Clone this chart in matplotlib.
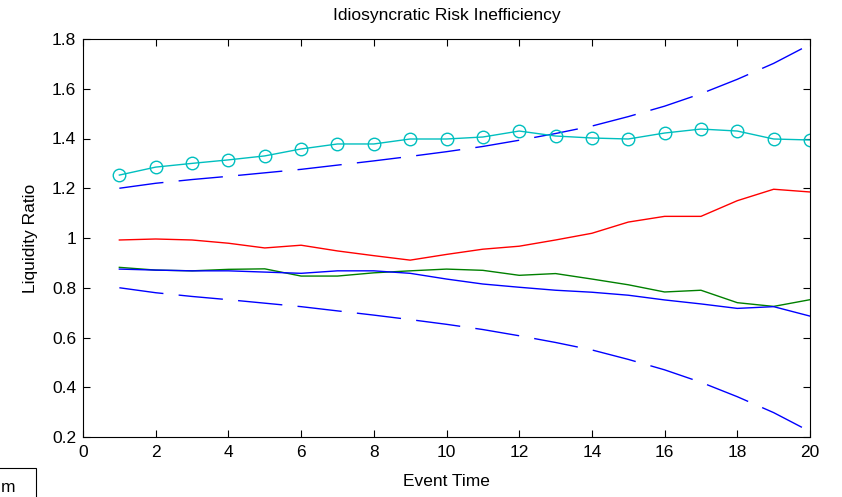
import numpy as np
import matplotlib
matplotlib.use("Agg")
import matplotlib.pyplot as plt
from matplotlib.patches import Rectangle

plt.rcParams['font.family'] = ['Liberation Sans', 'DejaVu Sans']

# event time axis
event_time = np.arange(1, 21)

# liquidity ratio series
upper_band = [1.200, 1.220, 1.235, 1.248, 1.262, 1.276, 1.293, 1.310, 1.328, 1.347,
              1.368, 1.393, 1.420, 1.450, 1.488, 1.530, 1.580, 1.638, 1.702, 1.778]
lower_band = [0.800, 0.780, 0.765, 0.752, 0.738, 0.724, 0.707, 0.690, 0.672, 0.653,
              0.632, 0.607, 0.580, 0.550, 0.512, 0.470, 0.420, 0.362, 0.298, 0.222]
cyan_series = [1.253, 1.285, 1.300, 1.314, 1.330, 1.358, 1.378, 1.378, 1.398, 1.398,
               1.406, 1.430, 1.410, 1.402, 1.398, 1.422, 1.438, 1.430, 1.398, 1.394]
red_series = [0.992, 0.996, 0.992, 0.979, 0.960, 0.971, 0.948, 0.929, 0.911, 0.934,
              0.955, 0.967, 0.992, 1.019, 1.064, 1.087, 1.087, 1.150, 1.196, 1.185]
green_series = [0.882, 0.871, 0.868, 0.874, 0.876, 0.847, 0.847, 0.860, 0.868, 0.875,
                0.870, 0.850, 0.857, 0.835, 0.812, 0.783, 0.790, 0.740, 0.725, 0.752]
blue_series = [0.875, 0.871, 0.868, 0.868, 0.863, 0.858, 0.868, 0.868, 0.858, 0.835,
               0.815, 0.802, 0.790, 0.782, 0.770, 0.751, 0.735, 0.717, 0.724, 0.686]

xticks = list(range(0, 21, 2))
yticks = [0.2, 0.4, 0.6, 0.8, 1.0, 1.2, 1.4, 1.6, 1.8]
ytick_labels = ['0.2', '0.4', '0.6', '0.8', '1', '1.2', '1.4', '1.6', '1.8']

fs = 12.5

fig = plt.figure(figsize=(8.42, 4.97), dpi=100)
ax = fig.add_axes([83 / 842, 60 / 497, 727 / 842, 398 / 497])

dash = (0, (32, 11))
ax.plot(event_time, upper_band, color='#0000ff', lw=1, linestyle=dash)
ax.plot(event_time, lower_band, color='#0000ff', lw=1, linestyle=dash)
ax.plot(event_time, green_series, color='#008000', lw=1)
ax.plot(event_time, blue_series, color='#0000ff', lw=1)
ax.plot(event_time, red_series, color='#ff0000', lw=1)
ax.plot(event_time, cyan_series, color='#00bfbf', lw=1, marker='o',
        markersize=9, markerfacecolor='none', markeredgewidth=1)

ax.set_xlim(0, 20)
ax.set_ylim(0.2, 1.8)
ax.set_xticks(xticks)
ax.set_yticks(yticks)
ax.set_yticklabels(ytick_labels)
ax.tick_params(direction='in', top=True, right=True, length=5, width=0.8,
               labelsize=fs)
ax.tick_params(axis='x', pad=6)
ax.tick_params(axis='y', pad=5)
for s in ax.spines.values():
    s.set_linewidth(0.8)

ax.set_title('Idiosyncratic Risk Inefficiency', fontsize=fs, pad=14)
ax.set_xlabel('Event Time', fontsize=fs, labelpad=10)
ax.set_ylabel('Liquidity Ratio', fontsize=fs, labelpad=10)

# clipped legend box at the bottom left edge
fig.patches.append(Rectangle((-10 / 842, -20 / 497), 46 / 842, 49 / 497,
                             transform=fig.transFigure, fill=False,
                             edgecolor='black', lw=0.8))
fig.text(1 / 842, 9 / 497, 'm', fontsize=fs, ha='left', va='center')

fig.savefig('out.png', dpi=100)
